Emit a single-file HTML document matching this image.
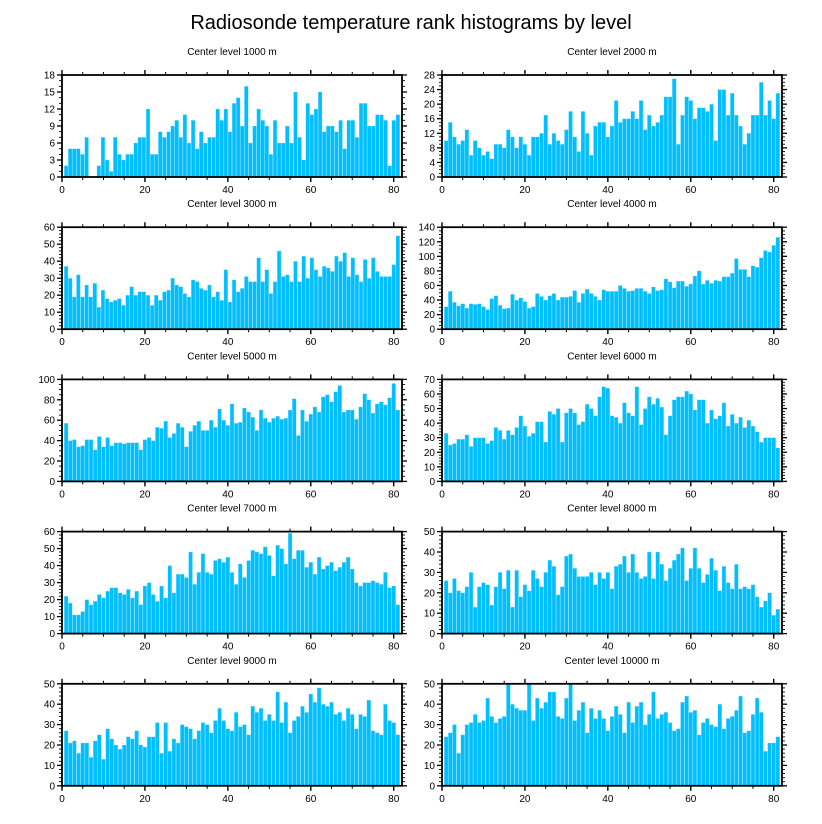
<!DOCTYPE html>
<html><head><meta charset="utf-8"><style>
body{margin:0;background:#fff;}
svg{display:block;font-family:"Liberation Sans",sans-serif;}
</style></head><body>
<svg id="c" width="822" height="824">
<text x="411" y="29" text-anchor="middle" font-size="20">Radiosonde temperature rank histograms by level</text>
</svg>
<script>
const levels=["1000","2000","3000","4000","5000","6000","7000","8000","9000","10000"];
const yMax=[18,28,60,140,100,70,60,50,50,50];
const yStep=[3,4,10,20,20,10,10,10,10,10];
const yMinor=[1,1,2,5,5,2,2,2,2,2];
const xTicks=[0,20,40,60,80];
const c1000=[2,5,5,5,4,7,0,0,2,7,3,1,7,4,3,4,4,6,7,7,12,4,4,8,7,8,9,10,7,11,6,10,5,8,6,7,7,12,10,12,8,13,14,9,16,6,9,12,10,9,4,10,6,6,9,6,15,7,3,13,11,12,15,8,9,9,8,10,5,10,10,7,13,13,9,9,11,11,10,2,10,11];
const c2000=[10,15,11,9,10,13,6,10,8,6,7,5,9,9,8,13,11,8,11,9,6,11,11,12,17,9,12,10,9,13,18,11,7,18,12,6,14,15,15,11,14,21,15,16,16,18,16,21,13,17,14,15,17,22,22,27,9,17,22,21,16,19,19,18,20,10,24,24,17,23,17,14,9,12,17,17,26,17,21,16,23];
const c3000=[37,30,19,32,19,26,19,27,13,23,18,16,17,18,14,20,25,20,22,22,20,14,20,17,22,23,30,26,25,21,19,29,28,24,23,26,19,22,17,35,16,29,22,24,31,28,28,42,28,35,21,28,46,31,32,28,40,28,43,30,42,35,31,37,36,34,43,40,45,31,42,32,28,41,30,42,34,31,31,31,38,55];
const c4000=[31,52,37,32,35,29,35,34,35,31,27,42,46,33,28,29,48,40,43,38,29,31,49,45,40,46,49,40,44,44,45,53,37,49,55,49,45,40,54,52,52,52,60,56,52,53,56,56,52,49,58,53,54,69,65,57,66,66,59,62,73,80,62,67,63,67,66,72,72,77,97,82,82,72,87,85,98,108,106,115,126];
const c5000=[57,40,41,34,35,41,41,31,44,34,43,35,38,38,37,38,38,38,31,41,43,40,53,52,59,43,47,57,53,34,49,55,59,50,50,60,53,71,60,55,76,57,58,72,68,63,50,70,62,58,62,64,61,62,70,81,45,70,59,66,73,68,83,85,78,88,94,68,70,70,61,73,86,80,67,76,78,75,82,96,70];
const c6000=[33,25,26,29,29,32,24,30,30,30,26,28,37,35,29,35,32,37,45,38,31,33,41,41,27,48,46,50,27,47,50,47,39,41,53,50,45,58,65,64,45,44,40,54,47,45,65,39,50,58,53,57,51,32,45,56,58,58,62,60,49,56,56,40,49,43,45,54,38,46,40,44,37,42,38,34,27,30,30,30,23];
const c7000=[22,18,11,11,13,20,17,19,23,21,25,27,27,24,23,26,21,25,17,28,30,23,19,28,21,40,24,35,35,33,48,29,36,47,36,35,43,44,42,45,36,29,41,33,43,49,48,47,51,46,34,52,50,41,59,44,49,49,39,42,35,45,38,40,42,37,39,42,45,38,30,28,30,30,31,30,29,36,27,28,17];
const c8000=[26,20,27,21,20,23,30,13,23,25,24,14,23,30,22,31,13,31,18,24,21,31,27,23,30,36,33,19,23,38,39,32,28,28,28,30,24,30,27,30,22,33,34,38,30,39,30,27,28,40,27,40,34,26,32,36,39,42,26,32,42,32,25,29,37,31,21,33,25,22,34,22,23,22,24,18,13,16,20,9,12];
const c9000=[27,21,22,16,21,21,14,22,25,13,28,23,20,18,20,24,23,27,20,19,24,24,31,16,31,17,23,21,30,29,28,23,27,31,30,26,32,38,32,28,27,36,29,30,25,39,36,38,32,35,32,46,31,41,26,32,34,39,36,45,41,48,40,39,41,35,36,32,38,35,28,35,34,42,27,26,25,40,32,31,25];
const c10000=[24,26,30,16,25,30,31,35,31,32,43,34,31,33,34,50,40,38,37,37,50,32,43,38,41,46,46,34,33,43,50,32,37,41,26,38,33,37,33,27,34,39,35,26,41,31,39,41,30,35,46,33,35,36,31,27,28,41,44,36,37,25,31,33,30,29,40,28,33,34,37,44,26,27,35,43,36,17,21,21,24];
const series=[c1000,c2000,c3000,c4000,c5000,c6000,c7000,c8000,c9000,c10000];

const svg=document.getElementById('c');
const NS='http://www.w3.org/2000/svg';
function mk(tag,attrs,parent){const e=document.createElementNS(NS,tag);for(const k in attrs)e.setAttribute(k,attrs[k]);parent.appendChild(e);return e;}
const W=340,H=102;
for(let p=0;p<10;p++){
  const col=p%2,row=Math.floor(p/2);
  const x0=col?442:62, y0=75+row*152.2;
  const data=series[p], n=data.length;
  const g=mk('g',{},svg);
  
  
  const xs=v=>x0+v/82*W;
  const ys=v=>y0+H-v/yMax[p]*H;
  const t=mk('text',{x:x0+W/2,y:y0-20,'text-anchor':'middle','font-size':'10'},g);
  t.textContent='Center level '+levels[p]+' m';
  
  
  const bw=82/(n+1);
  data.forEach((v,i)=>{
    const cx=(i+1)*bw;
    const r=mk('rect',{x:xs(cx-bw*0.47),y:ys(v),width:xs(bw*0.94)-x0,height:ys(0)-ys(v),fill:'#00BFFF',stroke:'#aee8ff','stroke-width':'0.3'},g);
    
    
  });
  const fr=mk('rect',{x:x0,y:y0,width:W,height:H,fill:'none',stroke:'#000','stroke-width':'1.8'},g);
  
  
  for(let v=0;v<=82;v+=5){
    const maj=v%20===0, L=maj?5:3, x=xs(v);
    mk('line',{x1:x,x2:x,y1:y0+H,y2:y0+H+L,stroke:'#000','stroke-width':maj?1.4:1},g);
    mk('line',{x1:x,x2:x,y1:y0,y2:y0-L,stroke:'#000','stroke-width':maj?1.4:1},g);
  }
  xTicks.forEach(v=>{
    const tl=mk('text',{x:xs(v),y:y0+H+16,'text-anchor':'middle','font-size':'10'},g);
    tl.textContent=v;
    
    
  });
  for(let v=0;v<=yMax[p]+1e-9;v+=yMinor[p]){
    const maj=Math.abs(v/yStep[p]-Math.round(v/yStep[p]))<1e-6, L=maj?5:3, y=ys(v);
    mk('line',{x1:x0,x2:x0-L,y1:y,y2:y,stroke:'#000','stroke-width':maj?1.3:0.9},g);
    mk('line',{x1:x0+W,x2:x0+W+L,y1:y,y2:y,stroke:'#000','stroke-width':maj?1.3:0.9},g);
  }
  for(let v=0;v<=yMax[p];v+=yStep[p]){
    const tl=mk('text',{x:x0-7,y:ys(v)+3.5,'text-anchor':'end','font-size':'10'},g);
    tl.textContent=v;
    
    
  }
}
</script>
</body></html>
